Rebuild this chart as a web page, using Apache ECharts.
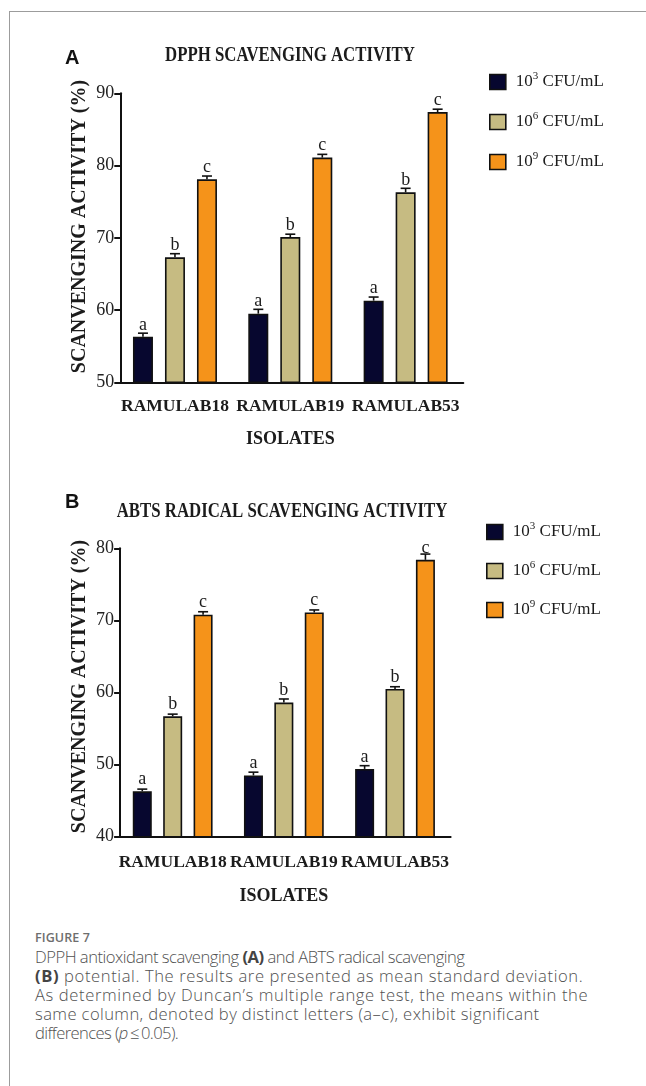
<!DOCTYPE html>
<html>
<head>
<meta charset="utf-8">
<script src="https://cdn.jsdelivr.net/npm/echarts@6/dist/echarts.min.js"></script>
<style>
  html, body { margin: 0; padding: 0; background: #fff; }
  #wrap { position: relative; width: 646px; height: 1086px; overflow: hidden; }
  #frame { position: absolute; left: 9px; top: 11px; right: -2px; bottom: -2px;
           border-left: 1px solid #9c9c9c; border-top: 1px solid #9c9c9c; }
  #chart { position: absolute; left: 0; top: 0; width: 646px; height: 920px; }
  #figno { position: absolute; left: 35px; top: 930px; font: 600 12.5px "Open Sans", sans-serif;
           color: #6e6e6e; line-height: 16px; letter-spacing: 0.1px; }
  #caption { position: absolute; left: 35px; top: 947px; font: 300 16.6px "Open Sans", sans-serif;
             color: #505050; line-height: 19px; white-space: nowrap; }
  #caption div { height: 19px; }
  #caption b { font-weight: 700; color: #444; }
</style>
</head>
<body>
<div id="wrap">
  <div id="frame"></div>
  <div id="chart"></div>
  <div id="figno">FIGURE 7</div>
  <div id="caption">
    <div style="letter-spacing:-0.5px">DPPH antioxidant scavenging <b>(A)</b> and ABTS radical scavenging</div>
    <div style="letter-spacing:0.6px"><b>(B)</b> potential. The results are presented as mean standard deviation.</div>
    <div style="letter-spacing:0.62px">As determined by Duncan’s multiple range test, the means within the</div>
    <div style="letter-spacing:0.4px">same column, denoted by distinct letters (a–c), exhibit significant</div>
    <div style="letter-spacing:-0.6px">differences (<i>p</i>&thinsp;≤&thinsp;0.05).</div>
  </div>
</div>
<script>
// Isolates and inoculum levels
const isolates = ['RAMULAB18', 'RAMULAB19', 'RAMULAB53'];
const doses = ['10^3 CFU/mL', '10^6 CFU/mL', '10^9 CFU/mL'];
const groupLetters = ['a', 'b', 'c'];

// DPPH scavenging activity (%), mean and SD
const dpph3 = [56.3, 59.5, 61.3];
const dpph6 = [67.3, 70.1, 76.3];
const dpph9 = [78.1, 81.1, 87.4];
const dpphSd3 = [0.5, 0.6, 0.5];
const dpphSd6 = [0.5, 0.4, 0.55];
const dpphSd9 = [0.45, 0.45, 0.4];

// ABTS radical scavenging activity (%), mean and SD
const abts3 = [46.3, 48.5, 49.4];
const abts6 = [56.7, 58.6, 60.5];
const abts9 = [70.8, 71.1, 78.4];
const abtsSd3 = [0.3, 0.45, 0.45];
const abtsSd6 = [0.3, 0.5, 0.3];
const abtsSd9 = [0.4, 0.35, 0.8];

// Y axis ranges
const dpphAxis = { min: 50, max: 90, interval: 10 };
const abtsAxis = { min: 40, max: 80, interval: 10 };

const colors = ['#07072f', '#c6bb82', '#f5931a'];
const serif = '"Liberation Serif", "Times New Roman", serif';
const ink = '#1c1c1c';

function barSeries(values, k, gridIdx, barWidth) {
  return {
    type: 'bar',
    name: doses[k],
    xAxisIndex: gridIdx, yAxisIndex: gridIdx,
    data: values,
    barWidth: barWidth,
    barGap: '60%',
    itemStyle: { color: colors[k], borderColor: '#111', borderWidth: 1.6 },
    label: {
      show: true, position: 'top', distance: 3,
      formatter: () => groupLetters[k],
      fontFamily: serif, fontSize: 18, color: ink
    },
    emphasis: { disabled: true },
    z: 2
  };
}

function errorSeries(values, sds, k, gridIdx, step, capW) {
  const offset = (k - 1) * step;
  return {
    type: 'custom',
    name: 'sd-' + gridIdx + '-' + k,
    xAxisIndex: gridIdx, yAxisIndex: gridIdx,
    data: values.map((v, i) => [i, v, sds[i]]),
    encode: { x: 0, y: 1 },
    silent: true,
    z: 3,
    renderItem: function (params, api) {
      const base = api.coord([api.value(0), api.value(1)]);
      const top = api.coord([api.value(0), api.value(1) + api.value(2)]);
      const cx = base[0] + offset;
      const st = { stroke: '#111', lineWidth: 1.6 };
      return {
        type: 'group',
        children: [
          { type: 'line', shape: { x1: cx, y1: base[1], x2: cx, y2: top[1] }, style: st },
          { type: 'line', shape: { x1: cx - capW / 2, y1: top[1], x2: cx + capW / 2, y2: top[1] }, style: st }
        ]
      };
    }
  };
}

function xAxisFor(gridIdx, labelMargin, nameGap) {
  return {
    type: 'category', gridIndex: gridIdx, data: isolates,
    axisLine: { lineStyle: { color: '#111', width: 2 } },
    axisTick: { alignWithLabel: true, length: 8, lineStyle: { color: '#111', width: 2 } },
    axisLabel: { interval: 0, hideOverlap: false, fontFamily: serif, fontWeight: 'bold',
                 fontSize: 17.5, color: ink, margin: labelMargin },
    name: 'ISOLATES', nameLocation: 'middle', nameGap: nameGap,
    nameTextStyle: { fontFamily: serif, fontWeight: 'bold', fontSize: 18, color: ink }
  };
}

function yAxisFor(gridIdx, range) {
  return {
    type: 'value', gridIndex: gridIdx,
    min: range.min, max: range.max, interval: range.interval,
    offset: -3,
    splitLine: { show: false },
    axisLine: { show: true, lineStyle: { color: '#111', width: 2 } },
    axisTick: { show: true, length: 6, lineStyle: { color: '#111', width: 2 } },
    axisLabel: { fontFamily: serif, fontSize: 18, color: '#222', margin: 6 }
  };
}

function legendFor(left, top, gap) {
  return {
    orient: 'vertical', left: left, top: top,
    data: doses, icon: 'rect', itemWidth: 16, itemHeight: 15, itemGap: gap,
    selectedMode: false,
    itemStyle: { borderColor: '#111', borderWidth: 1.6 },
    formatter: name => name.replace(/10\^(\d)/, '10{sup|$1}'),
    textStyle: {
      fontFamily: serif, fontSize: 17, color: ink, lineHeight: 22, padding: [0, 0, 0, 5],
      rich: { sup: { fontFamily: serif, fontSize: 11, color: ink, verticalAlign: 'top', lineHeight: 12 } }
    }
  };
}

function headline(text, x, y, size, sx) {
  return {
    type: 'text', x: x, y: y, scaleX: sx,
    style: { text: text, font: 'bold ' + size + 'px ' + serif, fill: ink,
             textAlign: 'center', textVerticalAlign: 'middle' }
  };
}

function panelLetter(text, x, y) {
  return {
    type: 'text', x: x, y: y,
    style: { text: text, font: 'bold 20px "Liberation Sans", Arial, sans-serif', fill: '#111',
             textAlign: 'left', textVerticalAlign: 'middle' }
  };
}

function sideTitle(x, y) {
  return {
    type: 'text', x: x, y: y, rotation: Math.PI / 2,
    style: { text: 'SCANVENGING ACTIVITY (%)', font: 'bold 20px ' + serif, fill: ink,
             textAlign: 'center', textVerticalAlign: 'middle' }
  };
}

const chart = echarts.init(document.getElementById('chart'), null, { renderer: 'canvas' });
chart.setOption({
  backgroundColor: 'transparent',
  animation: false,
  grid: [
    { left: 117.3, top: 93.3, width: 346, height: 289 },
    { left: 117.1, top: 548.3, width: 333.5, height: 288.4 }
  ],
  xAxis: [xAxisFor(0, 15, 48), xAxisFor(1, 17, 51)],
  yAxis: [yAxisFor(0, dpphAxis), yAxisFor(1, abtsAxis)],
  legend: [legendFor(484, 66, 18), legendFor(481, 516, 17)],
  graphic: [
    panelLetter('A', 65, 58),
    headline('DPPH SCAVENGING ACTIVITY', 290, 55.5, 20, 0.84),
    sideTitle(80, 226.5),
    panelLetter('B', 65, 502),
    headline('ABTS RADICAL SCAVENGING ACTIVITY', 282, 511.5, 20, 0.84),
    sideTitle(79.5, 686.5)
  ],
  series: [
    barSeries(dpph3, 0, 0, 20), barSeries(dpph6, 1, 0, 20), barSeries(dpph9, 2, 0, 20),
    errorSeries(dpph3, dpphSd3, 0, 0, 32, 10),
    errorSeries(dpph6, dpphSd6, 1, 0, 32, 10),
    errorSeries(dpph9, dpphSd9, 2, 0, 32, 10),
    barSeries(abts3, 0, 1, 19), barSeries(abts6, 1, 1, 19), barSeries(abts9, 2, 1, 19),
    errorSeries(abts3, abtsSd3, 0, 1, 30.4, 10),
    errorSeries(abts6, abtsSd6, 1, 1, 30.4, 10),
    errorSeries(abts9, abtsSd9, 2, 1, 30.4, 10)
  ]
});
</script>
</body>
</html>
